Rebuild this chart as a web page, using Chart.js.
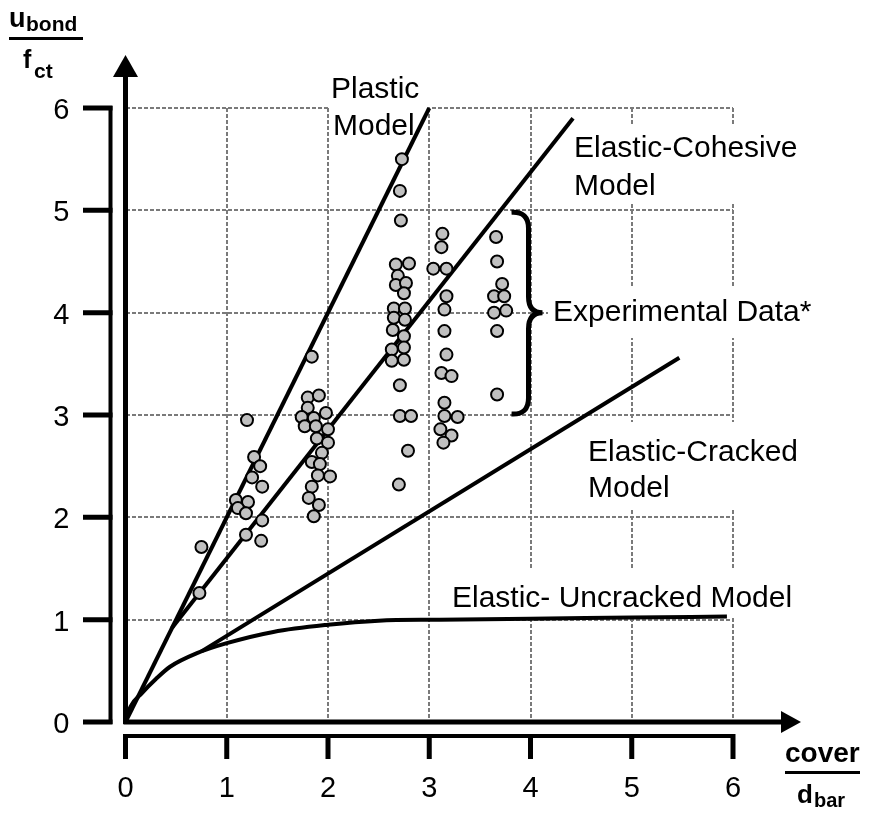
<!DOCTYPE html>
<html>
<head>
<meta charset="utf-8">
<title>Bond strength models</title>
<script src="https://cdn.jsdelivr.net/npm/chart.js@4.4.0/dist/chart.umd.min.js"></script>
<style>
  html, body { margin: 0; padding: 0; background: #fff; }
  #wrap { width: 869px; height: 813px; position: relative; }
</style>
</head>
<body>
<div id="wrap"><canvas id="graph"></canvas></div>
<script>
// axis ticks (cover/d_bar and u_bond/f_ct)
const xTicks = [0, 1, 2, 3, 4, 5, 6];
const yTicks = [0, 1, 2, 3, 4, 5, 6];

const expX = [0.75, 0.73,
  1.20, 1.27, 1.33, 1.25, 1.35, 1.09, 1.21, 1.11, 1.19, 1.35, 1.19, 1.34,
  1.84, 1.80, 1.91, 1.80, 1.74, 1.86, 1.98, 1.77, 1.88, 2.00, 1.89, 2.00, 1.94, 1.84, 1.92, 1.90, 2.02, 1.84, 1.81, 1.91, 1.86,
  2.73, 2.71, 2.72, 2.67, 2.80, 2.69, 2.67, 2.77, 2.75, 2.65, 2.76, 2.65, 2.76, 2.64, 2.75, 2.63, 2.75, 2.63, 2.75, 2.71, 2.71, 2.82, 2.79, 2.70,
  3.13, 3.12, 3.04, 3.17, 3.17, 3.15, 3.15, 3.17, 3.12, 3.22, 3.15, 3.15, 3.28, 3.11, 3.22, 3.14,
  3.66, 3.67, 3.72, 3.64, 3.74, 3.64, 3.76, 3.67, 3.67];
const expY = [1.71, 1.26,
  2.95, 2.59, 2.50, 2.39, 2.30, 2.17, 2.15, 2.09, 2.04, 1.97, 1.83, 1.77,
  3.57, 3.17, 3.19, 3.07, 2.98, 2.97, 3.02, 2.89, 2.89, 2.86, 2.77, 2.73, 2.63, 2.54, 2.52, 2.41, 2.40, 2.30, 2.19, 2.12, 2.01,
  5.50, 5.19, 4.90, 4.47, 4.48, 4.36, 4.27, 4.29, 4.19, 4.04, 4.04, 3.95, 3.93, 3.83, 3.77, 3.64, 3.66, 3.53, 3.54, 3.29, 2.99, 2.99, 2.65, 2.32,
  4.77, 4.64, 4.43, 4.43, 4.16, 4.03, 3.82, 3.59, 3.41, 3.38, 3.12, 2.99, 2.98, 2.86, 2.80, 2.73,
  4.74, 4.50, 4.28, 4.16, 4.16, 4.00, 4.02, 3.82, 3.20];

// model curves
const plasticX = [0, 3.0];
const plasticY = [0, 6.0];
const cohesiveX = [0.46, 4.42];
const cohesiveY = [0.92, 5.9];
const crackedX = [0.75, 5.47];
const crackedY = [0.69, 3.56];
const uncrackedX = [0, 0.05, 0.16, 0.3, 0.44, 0.7, 1.0, 1.46, 2.0, 2.5, 3.1, 4.0, 5.0, 5.94];
const uncrackedY = [0, 0.15, 0.28, 0.42, 0.54, 0.67, 0.77, 0.88, 0.95, 0.99, 1.0, 1.01, 1.02, 1.03];

const FONT = 'Arial, "Liberation Sans", sans-serif';

function toPoints(xs, ys) {
  return xs.map(function(x, i) { return { x: x, y: ys[i] }; });
}

function modelLine(xs, ys, smooth) {
  return {
    type: 'line',
    data: toPoints(xs, ys),
    borderColor: '#000',
    borderWidth: 4,
    pointRadius: 0,
    showLine: true,
    fill: false,
    cubicInterpolationMode: smooth ? 'monotone' : 'default',
    clip: false
  };
}

// text labels placed on the plot, with white boxes that break the grid
const decorations = {
  id: 'decorations',
  beforeDatasetsDraw(chart) {
    const ctx = chart.ctx;
    ctx.save();
    ctx.fillStyle = '#fff';
    ctx.fillRect(329, 70, 99, 74);
    ctx.fillRect(568, 124, 240, 80);
    ctx.fillRect(548, 288, 268, 50);
    ctx.fillRect(580, 422, 220, 88);
    ctx.fillRect(446, 568, 354, 49);

    ctx.fillStyle = '#000';
    ctx.font = '30px ' + FONT;
    ctx.textAlign = 'left';
    ctx.textBaseline = 'alphabetic';
    ctx.fillText('Plastic', 331, 98);
    ctx.fillText('Model', 333, 135);
    ctx.fillText('Elastic-Cohesive', 574, 157);
    ctx.fillText('Model', 574, 195);
    ctx.fillText('Experimental Data*', 553, 321);
    ctx.fillText('Elastic-Cracked', 588, 461);
    ctx.fillText('Model', 588, 497);
    ctx.fillText('Elastic- Uncracked Model', 452, 607);
    ctx.restore();
  },
  afterDatasetsDraw(chart) {
    const ctx = chart.ctx;
    const xs = chart.scales.x;
    const ys = chart.scales.y;
    const left = xs.getPixelForValue(0);
    const bottom = ys.getPixelForValue(0);
    ctx.save();
    ctx.strokeStyle = '#000';
    ctx.fillStyle = '#000';
    ctx.lineCap = 'butt';

    // arrow axes
    ctx.lineWidth = 5;
    ctx.beginPath();
    ctx.moveTo(left - 2, bottom);
    ctx.lineTo(783, bottom);
    ctx.moveTo(left, bottom + 2);
    ctx.lineTo(left, 76);
    ctx.stroke();
    ctx.beginPath();
    ctx.moveTo(left, 55);
    ctx.lineTo(left - 12.5, 77);
    ctx.lineTo(left + 12.5, 77);
    ctx.closePath();
    ctx.fill();
    ctx.beginPath();
    ctx.moveTo(801, bottom);
    ctx.lineTo(781, bottom - 11);
    ctx.lineTo(781, bottom + 11);
    ctx.closePath();
    ctx.fill();

    // offset scale bars with tick marks
    const barX = left - 15;
    const barY = bottom + 14;
    ctx.lineWidth = 4;
    ctx.beginPath();
    ctx.moveTo(barX, ys.getPixelForValue(6) - 2);
    ctx.lineTo(barX, bottom + 2);
    ctx.moveTo(left - 2, barY);
    ctx.lineTo(xs.getPixelForValue(6) + 2, barY);
    ctx.stroke();
    ctx.lineWidth = 5;
    ctx.beginPath();
    yTicks.forEach(function(v) {
      const py = ys.getPixelForValue(v);
      ctx.moveTo(83, py);
      ctx.lineTo(barX + 2, py);
    });
    xTicks.forEach(function(v) {
      const px = xs.getPixelForValue(v);
      ctx.moveTo(px, barY - 2);
      ctx.lineTo(px, barY + 23);
    });
    ctx.stroke();

    // brace around the experimental data
    const bx = xs.getPixelForValue(4.0) - 2;
    const top = ys.getPixelForValue(5) + 1;
    const mid = ys.getPixelForValue(4);
    const bot = ys.getPixelForValue(3);
    ctx.lineWidth = 5;
    ctx.beginPath();
    ctx.moveTo(bx - 17, top + 1);
    ctx.quadraticCurveTo(bx, top, bx, top + 17);
    ctx.lineTo(bx, mid - 16);
    ctx.quadraticCurveTo(bx, mid, bx + 14, mid);
    ctx.quadraticCurveTo(bx, mid, bx, mid + 16);
    ctx.lineTo(bx, bot - 17);
    ctx.quadraticCurveTo(bx, bot, bx - 17, bot - 1);
    ctx.stroke();

    // axis titles written as fractions
    ctx.textAlign = 'left';
    ctx.textBaseline = 'alphabetic';
    ctx.font = 'bold 27px ' + FONT;
    ctx.fillText('u', 9, 27);
    ctx.font = 'bold 21px ' + FONT;
    ctx.fillText('bond', 26, 31);
    ctx.fillRect(9, 37, 74, 3);
    ctx.font = 'bold 25px ' + FONT;
    ctx.fillText('f', 23, 68);
    ctx.font = 'bold 21px ' + FONT;
    ctx.fillText('ct', 34, 78);

    ctx.font = 'bold 28px ' + FONT;
    ctx.fillText('cover', 785, 762);
    ctx.fillRect(785, 771, 75, 3);
    ctx.font = 'bold 26px ' + FONT;
    ctx.fillText('d', 797, 803);
    ctx.font = 'bold 20px ' + FONT;
    ctx.fillText('bar', 814, 807);
    ctx.restore();
  }
};

const ctx = document.getElementById('graph').getContext('2d');
window.myChart = new Chart(ctx, {
  type: 'scatter',
  data: {
    datasets: [
      {
        label: 'Experimental Data*',
        data: toPoints(expX, expY),
        backgroundColor: '#c0c0c0',
        borderColor: '#000',
        borderWidth: 2,
        pointRadius: 6,
        pointHoverRadius: 6,
        clip: false
      },
      modelLine(plasticX, plasticY, false),
      modelLine(cohesiveX, cohesiveY, false),
      modelLine(crackedX, crackedY, false),
      modelLine(uncrackedX, uncrackedY, true)
    ]
  },
  options: {
    responsive: true,
    maintainAspectRatio: false,
    animation: false,
    layout: { padding: { left: 0, top: 108, right: 136, bottom: 0 } },
    plugins: { legend: { display: false }, tooltip: { enabled: false } },
    scales: {
      x: {
        type: 'linear',
        min: 0,
        max: 6,
        afterFit: function(scale) { scale.height = 91; },
        ticks: {
          stepSize: 1,
          padding: 50,
          color: '#000',
          font: { family: FONT, size: 29 },
          maxRotation: 0
        },
        grid: { color: '#7a7a7a', lineWidth: 2, drawTicks: false },
        border: { display: false, dash: [4, 2] }
      },
      y: {
        type: 'linear',
        min: 0,
        max: 6,
        afterFit: function(scale) { scale.width = 125.5; },
        ticks: {
          stepSize: 1,
          padding: 56,
          labelOffset: 3,
          color: '#000',
          font: { family: FONT, size: 29 }
        },
        grid: { color: '#7a7a7a', lineWidth: 2, drawTicks: false },
        border: { display: false, dash: [4, 2] }
      }
    }
  },
  plugins: [decorations]
});
</script>
</body>
</html>
